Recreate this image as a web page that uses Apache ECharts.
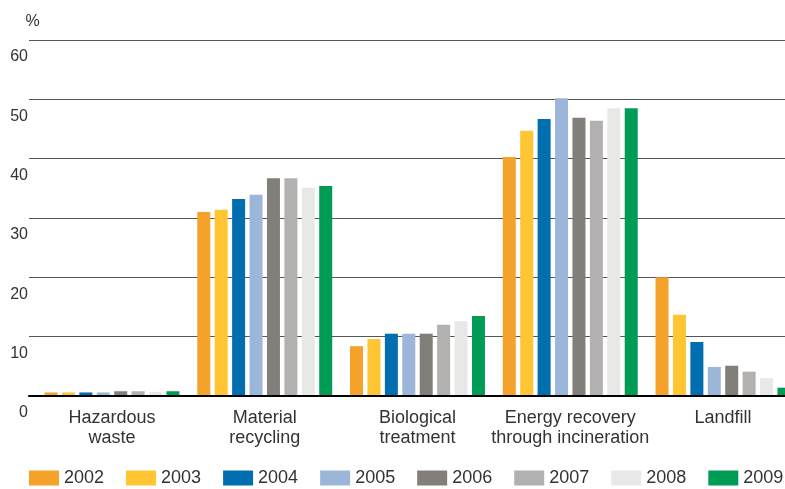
<!DOCTYPE html>
<html>
<head>
<meta charset="utf-8">
<script src="https://cdn.jsdelivr.net/npm/echarts@6/dist/echarts.min.js"></script>
<style>
  html, body { margin: 0; padding: 0; background: #fff; }
  #chart { width: 785px; height: 489px; }
</style>
</head>
<body>
<div id="chart"></div>
<script>
const categories = [
  "Hazardous\nwaste",
  "Material\nrecycling",
  "Biological\ntreatment",
  "Energy recovery\nthrough incineration",
  "Landfill"
];
const years = ["2002", "2003", "2004", "2005", "2006", "2007", "2008", "2009"];
const yearColors = ["#F5A22B", "#FFC532", "#006EAF", "#9CB6D9", "#827E7A", "#B2B1AF", "#E8E8E6", "#009B55"];

// values per year, in category order
const v2002 = [0.6, 31.0, 8.4, 40.3, 20.0];
const v2003 = [0.6, 31.4, 9.6, 44.7, 13.7];
const v2004 = [0.6, 33.2, 10.5, 46.7, 9.1];
const v2005 = [0.6, 33.9, 10.5, 50.2, 4.9];
const v2006 = [0.8, 36.7, 10.5, 46.9, 5.1];
const v2007 = [0.8, 36.7, 12.0, 46.4, 4.1];
const v2008 = [0.7, 35.1, 12.6, 48.5, 3.0];
const v2009 = [0.8, 35.4, 13.5, 48.5, 1.4];
const seriesValues = [v2002, v2003, v2004, v2005, v2006, v2007, v2008, v2009];

const yTicks = { min: 0, max: 60, interval: 10 };

let myChart = echarts.init(document.getElementById("chart"));

let font = "'Liberation Sans', Arial, sans-serif";

let option = {
  animation: false,
  textStyle: { fontFamily: font },
  // grid 0 carries gridlines, baseline and y labels
  // grid 1 carries the bars, category centres sit on its ticks
  grid: [
    { left: 29, right: 0, top: 40, height: 356 },
    { left: 112, right: 62, top: 40, height: 356 }
  ],
  legend: {
    left: 29,
    top: 469,
    width: 800,
    padding: 0,
    itemWidth: 30,
    itemHeight: 15,
    itemGap: 22,
    icon: "rect",
    textStyle: { fontSize: 18, color: "#333", fontFamily: font },
    data: years
  },
  xAxis: [
    {
      gridIndex: 0,
      type: "value",
      min: 0,
      max: 1,
      z: 5,
      axisLine: { show: true, lineStyle: { color: "#000", width: 2 } },
      axisTick: { show: false },
      axisLabel: { show: false },
      splitLine: { show: false }
    },
    {
      gridIndex: 1,
      type: "category",
      boundaryGap: false,
      data: categories,
      axisLine: { show: false },
      axisTick: { show: false },
      axisLabel: {
        margin: 12,
        fontSize: 18,
        lineHeight: 20,
        color: "#333",
        interval: 0
      }
    }
  ],
  yAxis: [
    {
      gridIndex: 0,
      type: "value",
      min: yTicks.min,
      max: yTicks.max,
      interval: yTicks.interval,
      name: "%",
      nameLocation: "end",
      nameGap: 10,
      nameTextStyle: { fontSize: 16, color: "#333", padding: [0, 0, 0, 7] },
      axisLine: { show: false },
      axisTick: { show: false },
      axisLabel: {
        margin: 1,
        fontSize: 16,
        lineHeight: 16,
        color: "#333",
        verticalAlign: "top",
        padding: [9, 0, 0, 0]
      },
      splitLine: { show: true, lineStyle: { color: "#555", width: 1 } }
    },
    {
      gridIndex: 1,
      type: "value",
      min: yTicks.min,
      max: yTicks.max,
      interval: yTicks.interval,
      show: false
    }
  ],
  series: years.map(function (year, i) {
    return {
      name: year,
      type: "bar",
      xAxisIndex: 1,
      yAxisIndex: 1,
      clip: false,
      barWidth: 13,
      barGap: "34%",
      itemStyle: { color: yearColors[i] },
      data: seriesValues[i]
    };
  })
};

myChart.setOption(option);
</script>
</body>
</html>
